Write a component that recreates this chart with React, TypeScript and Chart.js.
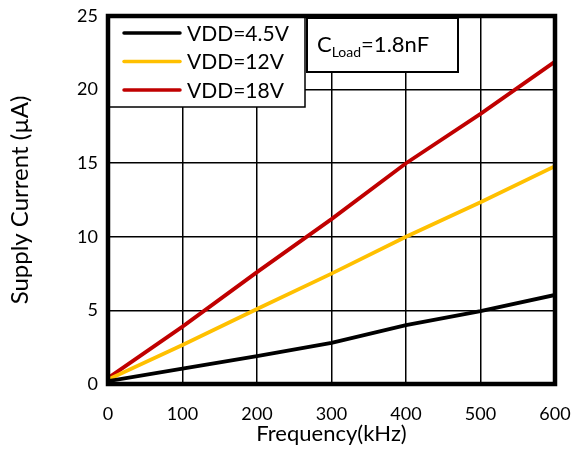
import React, { useEffect, useRef } from "react";
import { Chart, registerables } from "chart.js";

Chart.register(...registerables);

const frequencyKHz = [0, 100, 200, 300, 400, 500, 600];
const vdd45 = [0.2, 1.05, 1.9, 2.8, 4.0, 4.95, 6.05];
const vdd12 = [0.3, 2.65, 5.1, 7.5, 10.0, 12.35, 14.8];
const vdd18 = [0.4, 3.9, 7.6, 11.2, 15.0, 18.35, 21.9];
const seriesLabels = ["VDD=4.5V", "VDD=12V", "VDD=18V"];
const seriesColors = ["#000000", "#FFC000", "#C00000"];
const xTitle = "Frequency(kHz)";
const yTitle = "Supply Current (\u00B5A)";
const noteMain = "C";
const noteSub = "Load";
const noteRest = "=1.8nF";

const FONT = "Lato, 'Open Sans', sans-serif";

const overlay = {
  id: "overlay",
  afterDraw(chart: any) {
    const { ctx, chartArea: a } = chart;
    ctx.save();
    // legend box
    const lx = a.left, ly = a.top, lw = 197, lh = 91;
    ctx.fillStyle = "#fff";
    ctx.fillRect(lx, ly, lw, lh);
    ctx.lineWidth = 1.5;
    ctx.strokeStyle = "#000";
    ctx.strokeRect(lx, ly, lw, lh);
    chart.data.datasets.forEach((ds: any, i: number) => {
      const y = ly + 17 + i * 28.5;
      ctx.beginPath();
      ctx.strokeStyle = ds.borderColor;
      ctx.lineWidth = 3.5;
      ctx.lineCap = "round";
      ctx.moveTo(lx + 16, y);
      ctx.lineTo(lx + 72, y);
      ctx.stroke();
      ctx.fillStyle = "#000";
      ctx.font = `21px ${FONT}`;
      ctx.textBaseline = "middle";
      ctx.textAlign = "left";
      ctx.fillText(ds.label, lx + 79, y + 1);
    });
    // annotation box
    const nx = a.left + 199, ny = a.top + 2, nw = 151, nh = 54;
    ctx.fillStyle = "#fff";
    ctx.fillRect(nx, ny, nw, nh);
    ctx.lineWidth = 2;
    ctx.strokeStyle = "#000";
    ctx.strokeRect(nx, ny, nw, nh);
    ctx.fillStyle = "#000";
    ctx.textBaseline = "alphabetic";
    ctx.font = `22px ${FONT}`;
    let tx = nx + 10;
    const base = ny + 34;
    ctx.fillText(noteMain, tx, base);
    tx += ctx.measureText(noteMain).width;
    ctx.font = `14px ${FONT}`;
    ctx.fillText(noteSub, tx, base + 5);
    tx += ctx.measureText(noteSub).width;
    ctx.font = `22px ${FONT}`;
    ctx.fillText(noteRest, tx, base);
    // frame
    ctx.lineWidth = 4.5;
    ctx.strokeStyle = "#000";
    ctx.lineCap = "butt";
    ctx.strokeRect(a.left, a.top, a.right - a.left, a.bottom - a.top);
    ctx.restore();
  },
};

export default function App() {
  const ref = useRef<HTMLCanvasElement>(null);
  useEffect(() => {
    const values = [vdd45, vdd12, vdd18];
    const chart = new Chart(ref.current!, {
      type: "line",
      data: {
        datasets: values.map((v, i) => ({
          label: seriesLabels[i],
          data: frequencyKHz.map((f, j) => ({ x: f, y: v[j] })),
          borderColor: seriesColors[i],
          backgroundColor: seriesColors[i],
          borderWidth: 3.8,
          pointRadius: 0,
          tension: 0,
        })),
      },
      options: {
        animation: false,
        responsive: false,
        maintainAspectRatio: false,
        layout: { padding: { left: 0, top: 16, right: 22, bottom: 0 } },
        plugins: { legend: { display: false }, tooltip: { enabled: false } },
        scales: {
          x: {
            type: "linear",
            min: 0,
            max: 600,
            ticks: { stepSize: 100, color: "#000", padding: 19, font: { family: FONT, size: 18 } },
            grid: { color: "#000", lineWidth: 1.5, drawTicks: false },
            border: { display: false },
            title: { display: true, text: xTitle, color: "#000", font: { family: FONT, size: 22 }, padding: { top: 0 } },
            afterFit: (s: any) => { s.height = 67; s.paddingLeft = 0; s.paddingRight = 0; },
          },
          y: {
            min: 0,
            max: 25,
            ticks: { stepSize: 5, color: "#000", padding: 10, font: { family: FONT, size: 18 } },
            grid: { color: "#000", lineWidth: 1.5, drawTicks: false },
            border: { display: false },
            title: { display: true, text: yTitle, color: "#000", font: { family: FONT, size: 24 }, padding: { top: 6, bottom: 12 } },
            afterFit: (s: any) => { s.width = 108; s.paddingTop = 0; s.paddingBottom = 0; },
          },
        },
      },
      plugins: [overlay],
    });
    return () => chart.destroy();
  }, []);
  return (
    <div style={{ position: "fixed", left: 0, top: 0, width: 577, height: 451, background: "#fff" }}>
      <canvas ref={ref} width={577} height={451} style={{ width: 577, height: 451 }} />
    </div>
  );
}
